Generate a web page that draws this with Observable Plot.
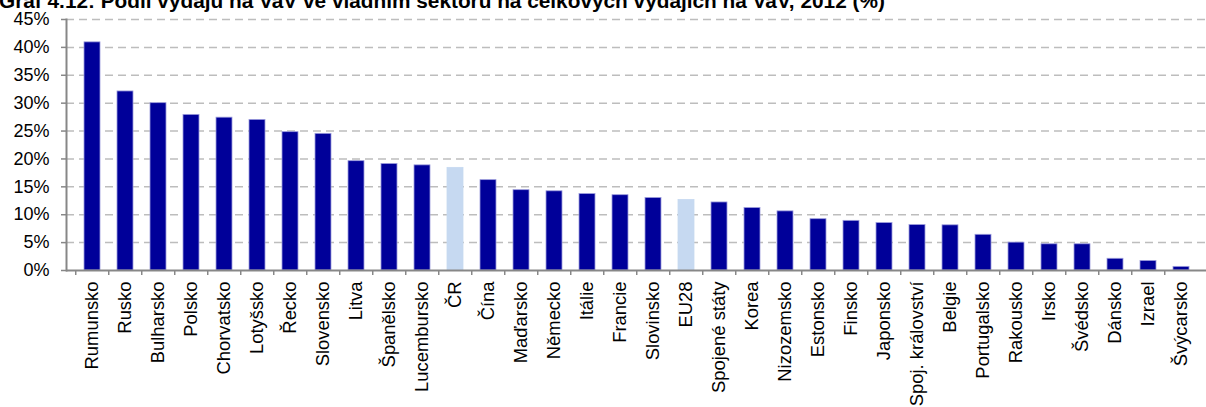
<!DOCTYPE html>
<html>
<head>
<meta charset="utf-8">
<script src="https://cdn.jsdelivr.net/npm/d3@7"></script>
<script src="https://cdn.jsdelivr.net/npm/@observablehq/plot@0.6"></script>
<style>
  html, body { margin: 0; padding: 0; background: #fff; overflow: hidden; }
  body { width: 1206px; height: 407px; position: relative; font-family: "Liberation Sans", Arial, sans-serif; }
  #title { position: absolute; top: -10px; left: -1px; font-weight: bold; font-size: 20.8px; line-height: 21px; white-space: nowrap; color: #000; }
  #chart { position: absolute; top: 0; left: 0; }
</style>
</head>
<body>
<div id="chart"></div>
<div id="title">Graf 4.12: Podíl výdajů na VaV ve vládním sektoru na celkových výdajích na VaV, 2012 (%)</div>
<script>
const categories = ["Rumunsko","Rusko","Bulharsko","Polsko","Chorvatsko","Lotyšsko","Řecko","Slovensko","Litva","Španělsko","Lucembursko","ČR","Čína","Maďarsko","Německo","Itálie","Francie","Slovinsko","EU28","Spojené státy","Korea","Nizozemsko","Estonsko","Finsko","Japonsko","Spoj. království","Belgie","Portugalsko","Rakousko","Irsko","Švédsko","Dánsko","Izrael","Švýcarsko"];
const values = [40.9,32.1,30.0,27.9,27.4,27.0,24.8,24.5,19.6,19.1,18.85,18.4,16.2,14.4,14.2,13.7,13.5,13.0,12.65,12.2,11.2,10.6,9.2,8.9,8.5,8.15,8.1,6.4,5.0,4.7,4.7,2.1,1.7,0.65];
const highlighted = ["ČR","EU28"];
const yTicks = [0,5,10,15,20,25,30,35,40,45];

const data = categories.map((name, i) => ({name, value: values[i], hi: highlighted.includes(name)}));

const W = 1206, H = 407, mL = 66, mR = 0, mT = 19, mB = 137;
const step = (W - mL - mR) / categories.length;
const axisColor = "#878787";

const chart = Plot.plot({
  width: W, height: H,
  marginLeft: mL, marginRight: mR, marginTop: mT, marginBottom: mB,
  style: {fontFamily: "'Liberation Sans', Arial, sans-serif", background: "#fff", overflow: "visible"},
  x: {domain: categories, padding: 0.52, align: 0.5, label: null},
  y: {domain: [0, 45], label: null},
  marks: [
    Plot.gridY(yTicks.filter(d => d > 0), {stroke: "#bdbdbd", strokeOpacity: 1, strokeWidth: 1.5, strokeDasharray: "8,5"}),
    Plot.barY(data, {x: "name", y: "value", fill: d => d.hi ? "#c6d9f1" : "#000099", stroke: d => d.hi ? "#c6d9f1" : "#9c9cdc", strokeWidth: 0.8}),
    Plot.ruleY([0], {stroke: axisColor, strokeWidth: 2}),
    Plot.frame({anchor: "left", stroke: axisColor, strokeWidth: 2}),
    Plot.axisY({ticks: yTicks, tickFormat: d => d + "%", tickSize: 5, tickPadding: 12, stroke: axisColor, strokeWidth: 1.5, fontSize: 18, fill: "#000", label: null}),
    Plot.axisX({tickSize: 5, tickFormat: () => "", dx: -step / 2, stroke: axisColor, strokeWidth: 1.5, label: null}),
    Plot.axisX({tickSize: 0, tickRotate: -90, tickPadding: 11, fontSize: 18.4, fill: "#000", label: null})
  ]
});
document.getElementById("chart").appendChild(chart);
</script>
</body>
</html>
